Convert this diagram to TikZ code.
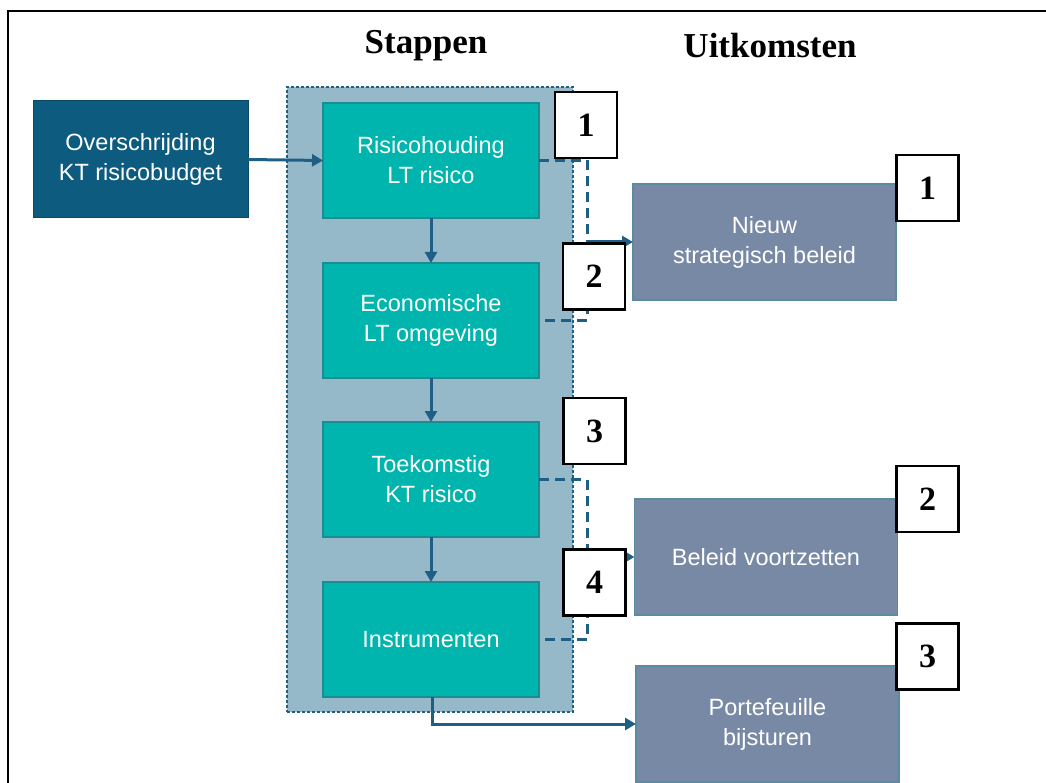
\documentclass[tikz,border=0pt]{standalone}
\usepackage{fontspec}
\setmainfont{Liberation Serif}
\newfontfamily\arialf{Liberation Sans}
\usetikzlibrary{arrows.meta}
\definecolor{darkblue}{HTML}{0D5C80}
\definecolor{tealc}{HTML}{00B5AD}
\definecolor{tealb}{HTML}{1A8C92}
\definecolor{contfill}{HTML}{96B9C9}
\definecolor{outc}{HTML}{7889A6}
\definecolor{arrowc}{HTML}{1F5F85}
\tikzset{
  every node/.style={inner sep=0pt, outer sep=0pt},
  txt/.style={text=white, align=center, font=\arialf\fontsize{23.5}{30}\selectfont},
  leftbox/.style={txt, fill=darkblue, draw=darkblue!80!black, line width=1pt, minimum width=215pt, minimum height=117pt},
  stepbox/.style={txt, fill=tealc, draw=tealb, line width=1.5pt, minimum width=216pt, minimum height=115pt},
  outbox/.style={txt, fill=outc, draw=outc!70!tealb, line width=1.5pt, minimum width=263pt, minimum height=116pt},
  numbox/.style={fill=white, draw=black, line width=2.2pt, minimum width=62pt, minimum height=66pt, font=\bfseries\fontsize{34}{34}\selectfont},
  title/.style={font=\bfseries\fontsize{35}{35}\selectfont},
  conn/.style={draw=arrowc, line width=3pt, -{Triangle[length=11pt,width=12pt]}},
  dconn/.style={draw=arrowc, line width=3pt, dash pattern=on 10pt off 6pt},
}
\begin{document}
\begin{tikzpicture}[x=1pt,y=-1pt]
\useasboundingbox (0,0) rectangle (1046,783);
% frame
\draw[line width=2.5pt] (8,783) -- (8,11) -- (1046,11);
% titles
\node[title] (t1) at (426,46) {Stappen};
\node[title] (t2) at (770,46) {Uitkomsten};
% container
\node[fill=contfill, draw=arrowc, line width=1.5pt, dash pattern=on 3pt off 2pt, minimum width=286pt, minimum height=625pt] (cont) at (430,399.5) {};
% boxes
\node[leftbox] (ov) at (140.5,159.5) {Overschrijding\\KT risicobudget};
\node[stepbox] (s1) at (431,160.5) {Risicohouding\\LT risico};
\node[stepbox] (s2) at (431,320.5) {Economische\\LT omgeving};
\node[stepbox] (s3) at (431,479.5) {Toekomstig\\KT risico};
\node[stepbox] (s4) at (431,639.5) {Instrumenten};
\node[outbox] (o1) at (764.5,242) {Nieuw\\strategisch beleid};
\node[outbox] (o2) at (766,557) {Beleid voortzetten};
\node[outbox] (o3) at (767.5,724) {Portefeuille\\bijsturen};
% coordinates
\coordinate (j1) at (587,242);
\coordinate (j2) at (587,557);
\coordinate (b4) at (432,724);
% arrows
\draw[conn] (ov.east) -- (s1.west);
\draw[conn] (s1.south) -- (s2.north);
\draw[conn] (s2.south) -- (s3.north);
\draw[conn] (s3.south) -- (s4.north);
\draw[dconn] (s1.east) -| (j1) |- (s2.east);
\draw[dconn] (s3.east) -| (j2) |- (s4.east);
\draw[conn] (j1) -- (o1.west);
\draw[conn] (j2) -- (o2.west);
\draw[conn] (s4.south -| b4) -- (b4) -- (o3.west);
% number boxes
\node[numbox] (n1) at (586,125) {1};
\node[numbox] (n2) at (594,276.5) {2};
\node[numbox] (n3) at (594.5,431) {3};
\node[numbox] (n4) at (594.5,582.5) {4};
\node[numbox] (r1) at (927.5,188) {1};
\node[numbox] (r2) at (927.5,499) {2};
\node[numbox] (r3) at (927.5,656.5) {3};
\end{tikzpicture}
\end{document}
